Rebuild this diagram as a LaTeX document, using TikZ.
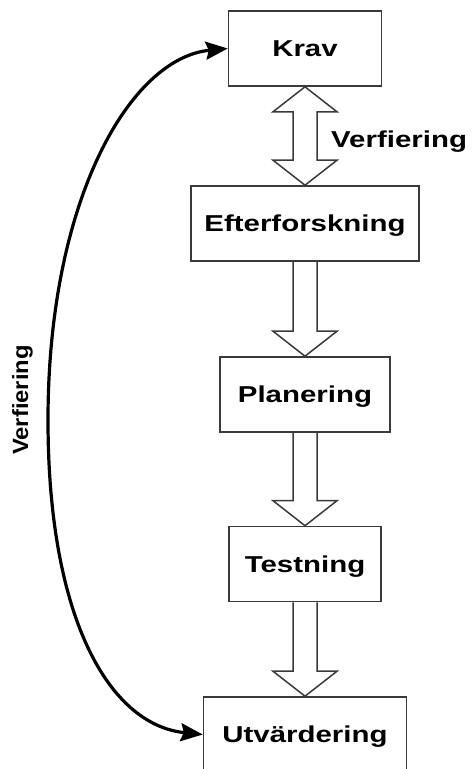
\documentclass[tikz,border=0pt]{standalone}
\usepackage{fontspec}
\newfontfamily\boxfont[FakeStretch=1.28]{Liberation Sans Bold}
\newfontfamily\sidefont[FakeStretch=1.08]{Liberation Sans Bold}
\usetikzlibrary{calc,arrows.meta,backgrounds}
\definecolor{edgegray}{HTML}{3A3A3A}
\newcommand\hollowdown[2]{%
  \draw[harrow] ($(#1.south)+(-12,0)$) -- ($(#2.north)+(-12,-25)$) -- ($(#2.north)+(-32,-25)$) -- (#2.north) -- ($(#2.north)+(32,-25)$) -- ($(#2.north)+(12,-25)$) -- ($(#1.south)+(12,0)$);}
\begin{document}
\begin{tikzpicture}[x=1pt,y=-1pt,
  stagebox/.style={draw=edgegray, line width=1.6pt, fill=white, rectangle, inner sep=0pt,
    minimum height=75pt, text height=16.5pt, text depth=0pt,
    font=\boxfont\fontsize{23}{23}\selectfont},
  harrow/.style={draw=edgegray, line width=1.5pt, fill=white, line join=miter},
  curvearrow/.style={line width=3.2pt,
    {Stealth[length=22pt,width=18pt,inset=3pt]}-{Stealth[length=22pt,width=18pt,inset=3pt]}},
  verlabel/.style={font=\boxfont\fontsize{23}{23}\selectfont, inner sep=0pt},
  sidelabel/.style={font=\sidefont\fontsize{22}{22}\selectfont, inner sep=0pt}
]
\useasboundingbox (0,0) rectangle (474,769);

\node[stagebox, minimum width=153pt] (krav) at (305,48.5) {Krav};
\node[stagebox, minimum width=228pt] (eft) at (305,223.5) {Efterforskning};
\node[stagebox, minimum width=170pt] (plan) at (305,394.5) {Planering};
\node[stagebox, minimum width=152pt] (test) at (305,564) {Testning};
\node[stagebox, minimum width=203pt] (utv) at (305,734.5) {Utvärdering};

\begin{scope}[on background layer]
  \draw[harrow] (krav.south) -- ($(krav.south)+(32,25)$) -- ($(krav.south)+(12,25)$)
    -- ($(eft.north)+(12,-25)$) -- ($(eft.north)+(32,-25)$) -- (eft.north)
    -- ($(eft.north)+(-32,-25)$) -- ($(eft.north)+(-12,-25)$)
    -- ($(krav.south)+(-12,25)$) -- ($(krav.south)+(-32,25)$) -- cycle;
  \hollowdown{eft}{plan}
  \hollowdown{plan}{test}
  \hollowdown{test}{utv}
\end{scope}

\coordinate (bend) at (48,420);
\draw[curvearrow] (krav.west) .. controls (130,58) and (48,200) .. (bend)
  .. controls (48,620) and (110,725) .. (utv.west);

\node[verlabel, anchor=base west] (vright) at (331,147) {Verfiering};
\node[sidelabel, rotate=90, anchor=base] (vleft) at (28,400) {Verfiering};
\end{tikzpicture}
\end{document}
